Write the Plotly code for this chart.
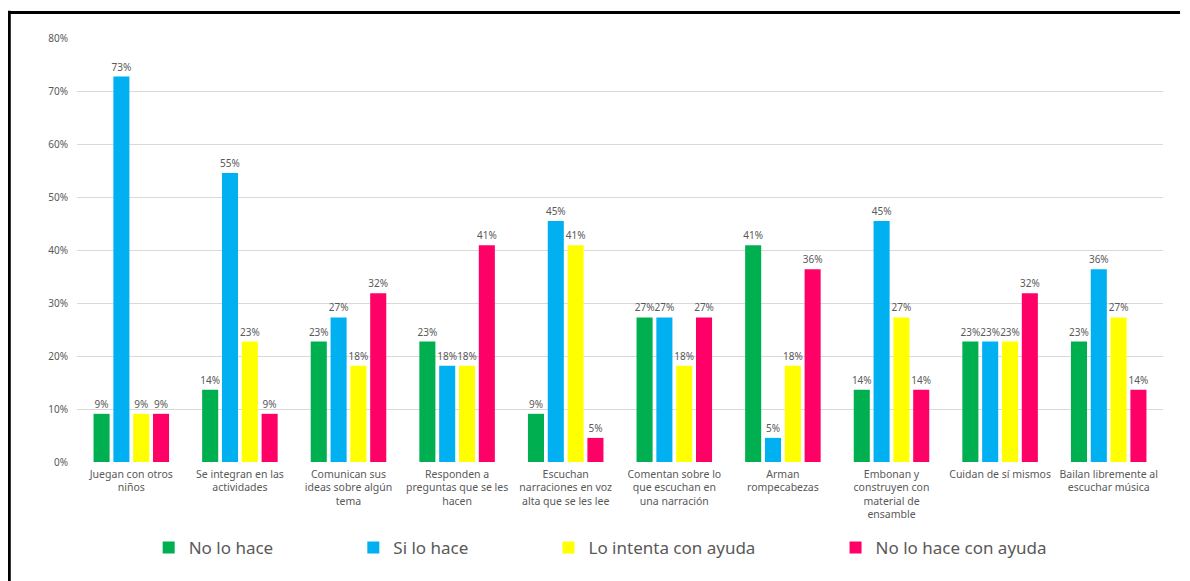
import plotly.graph_objects as go

categories = [
    "Juegan con otros<br>niños",
    "Se integran en las<br>actividades",
    "Comunican sus<br>ideas sobre algún<br>tema",
    "Responden a<br>preguntas que se les<br>hacen",
    "Escuchan<br>narraciones en voz<br>alta que se les lee",
    "Comentan sobre lo<br>que escuchan en<br>una narración",
    "Arman<br>rompecabezas",
    "Embonan y<br>construyen con<br>material de<br>ensamble",
    "Cuidan de sí mismos",
    "Bailan libremente al<br>escuchar música",
]

no_lo_hace = [0.0909, 0.1364, 0.2273, 0.2273, 0.0909, 0.2727, 0.4091, 0.1364, 0.2273, 0.2273]
si_lo_hace = [0.7273, 0.5455, 0.2727, 0.1818, 0.4545, 0.2727, 0.0455, 0.4545, 0.2273, 0.3636]
lo_intenta = [0.0909, 0.2273, 0.1818, 0.1818, 0.4091, 0.1818, 0.1818, 0.2727, 0.2273, 0.2727]
no_lo_hace_ayuda = [0.0909, 0.0909, 0.3182, 0.4091, 0.0455, 0.2727, 0.3636, 0.1364, 0.3182, 0.1364]

series_names = ["No lo hace", "Si lo hace", "Lo intenta con ayuda", "No lo hace con ayuda"]
series_values = [no_lo_hace, si_lo_hace, lo_intenta, no_lo_hace_ayuda]
colors = ["#00B050", "#00B0F0", "#FFFF00", "#FF0066"]

FONT = "Noto Sans"
GREY = "#595959"
pad = "\u00a0" * 17

fig = go.Figure()
for i, (name, vals, col) in enumerate(zip(series_names, series_values, colors)):
    label = name + (pad if i < len(series_names) - 1 else "")
    fig.add_trace(go.Bar(
        x=categories, y=vals, name=label,
        marker=dict(color=col, line=dict(width=0)),
        texttemplate="%{y:.0%}", textposition="outside",
        textfont=dict(family=FONT, size=10, color=GREY),
        cliponaxis=False, hoverinfo="skip",
    ))

fig.update_layout(
    width=1182, height=573,
    margin=dict(l=69, r=27, t=30, b=119),
    paper_bgcolor="white", plot_bgcolor="white",
    barmode="group", bargap=0.27, bargroupgap=0.19,
    font=dict(family=FONT, color=GREY),
    showlegend=True,
    legend=dict(orientation="h", x=0.066, xanchor="left", y=-0.203, yanchor="middle",
                font=dict(family=FONT, size=17, color=GREY), itemwidth=30,
                bgcolor="rgba(0,0,0,0)"),
    xaxis=dict(tickfont=dict(family=FONT, size=10.5, color=GREY), showgrid=False,
               showline=False, ticks="", tickangle=0, ticklabelstandoff=4, automargin=False),
    yaxis=dict(range=[0, 0.8], dtick=0.1, tickformat=".0%", showgrid=True,
               gridcolor="#D9D9D9", gridwidth=1, zeroline=False, showline=False,
               tickfont=dict(family=FONT, size=10, color=GREY), ticks="",
               ticklabelstandoff=8, automargin=False),
    shapes=[
        dict(type="line", xref="paper", yref="paper", x0=-0.0626, x1=-0.0626, y0=1.064, y1=-0.29,
             line=dict(color="black", width=3.5)),
        dict(type="line", xref="paper", yref="paper", x0=-0.066, x1=1.0157, y0=1.0601, y1=1.0601,
             line=dict(color="black", width=3)),
    ],
)
fig.update_layout(uniformtext=dict(mode="show", minsize=10))
fig.write_html("out.html")
